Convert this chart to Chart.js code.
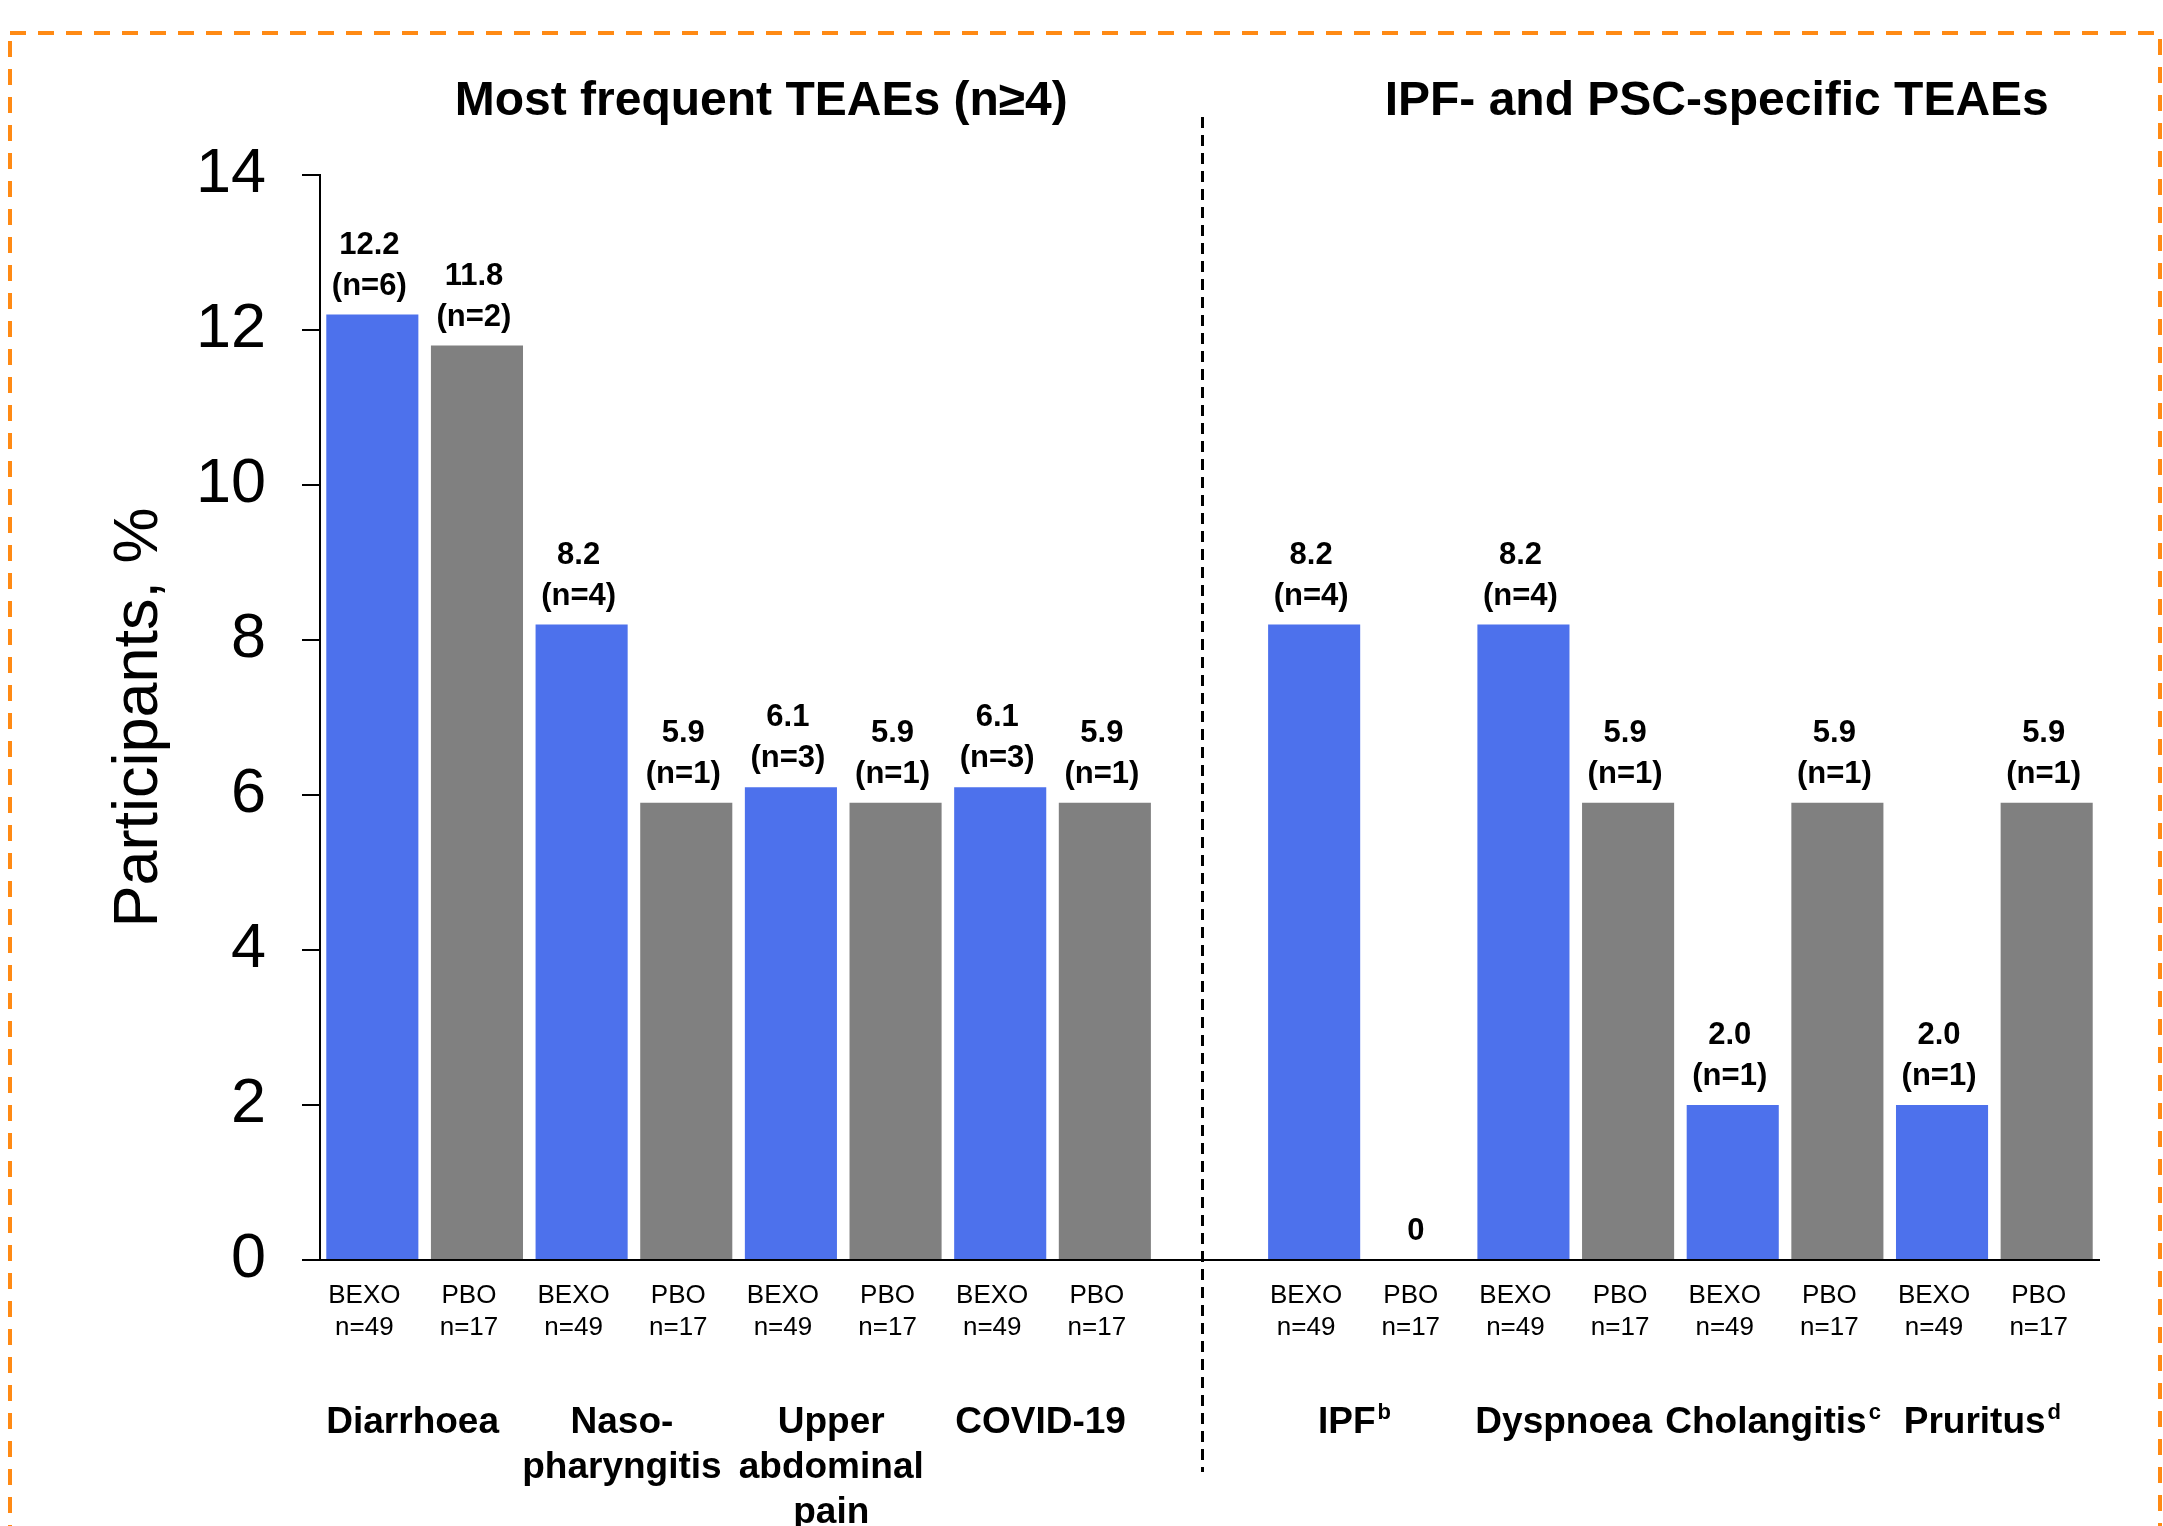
<!DOCTYPE html>
<html>
<head>
<meta charset="utf-8">
<script src="https://cdn.jsdelivr.net/npm/chart.js@4.4.1/dist/chart.umd.min.js"></script>
<style>
  body { margin: 0; background: #fff; }
  #chart { display: block; }
</style>
</head>
<body>
<canvas id="chart" width="2163" height="1526"></canvas>
<script>
const FONT = "'Liberation Sans', Arial, sans-serif";

// TEAEs in display order: first four = most frequent, last four = IPF/PSC specific
const eventNames = [["Diarrhoea"], ["Naso-", "pharyngitis"], ["Upper", "abdominal", "pain"], ["COVID-19"],
                    ["IPF"], ["Dyspnoea"], ["Cholangitis"], ["Pruritus"]];
const eventFootnotes = ["", "", "", "", "b", "", "c", "d"];
const panelTitles = ["Most frequent TEAEs (n\u22654)", "IPF- and PSC-specific TEAEs"];

const arms = ["BEXO", "PBO"];
const armTotals = [49, 17];

const bexoPct = [12.2, 8.2, 6.1, 6.1, 8.2, 8.2, 2.0, 2.0];
const bexoN = [6, 4, 3, 3, 4, 4, 1, 1];
const pboPct = [11.8, 5.9, 5.9, 5.9, 0, 5.9, 5.9, 5.9];
const pboN = [2, 1, 1, 1, 0, 1, 1, 1];

const yMin = 0, yMax = 14, yStep = 2;

// one slot per bar, with an empty slot between the two panels
const slotLabels = [], bexoData = [], pboData = [], slotCounts = [], firstSlot = [];
eventNames.forEach((_, i) => {
  if (i === 4) { slotLabels.push(""); bexoData.push(null); pboData.push(null); slotCounts.push(null); }
  firstSlot.push(slotLabels.length);
  slotLabels.push([arms[0], "n=" + armTotals[0]]); bexoData.push(bexoPct[i]); pboData.push(null); slotCounts.push(bexoN[i]);
  slotLabels.push([arms[1], "n=" + armTotals[1]]); bexoData.push(null); pboData.push(pboPct[i]); slotCounts.push(pboN[i]);
});
const gapSlot = 8;

const annotations = {
  id: "annotations",
  afterDatasetsDraw(chart) {
    const ctx = chart.ctx;
    ctx.save();
    ctx.fillStyle = "#000";
    ctx.textAlign = "center";
    ctx.textBaseline = "alphabetic";
    ctx.font = "bold 31px " + FONT;
    chart.data.datasets.forEach((ds, d) => {
      const meta = chart.getDatasetMeta(d);
      ds.data.forEach((v, s) => {
        if (v === null) return;
        const el = meta.data[s];
        const lines = v === 0 ? ["0"] : [v.toFixed(1), "(n=" + slotCounts[s] + ")"];
        lines.reverse().forEach((t, k) => ctx.fillText(t, el.x - 3, el.y - 20 - k * 41));
      });
    });
    ctx.restore();
  },
  afterDraw(chart) {
    const {ctx, chartArea, scales: {x}} = chart;
    ctx.save();

    // orange dashed frame
    ctx.strokeStyle = "#FF8A14";
    ctx.lineWidth = 4;
    ctx.setLineDash([16, 12]);
    ctx.strokeRect(10, 33, 2150, 1600);

    // panel divider
    const divX = x.getPixelForValue(gapSlot) - 7;
    ctx.strokeStyle = "#000";
    ctx.lineWidth = 3;
    ctx.setLineDash([11, 7]);
    ctx.beginPath();
    ctx.moveTo(divX, 117);
    ctx.lineTo(divX, 1472);
    ctx.stroke();
    ctx.setLineDash([]);

    // panel titles
    ctx.fillStyle = "#000";
    ctx.textAlign = "center";
    ctx.textBaseline = "alphabetic";
    ctx.font = "bold 48px " + FONT;
    ctx.fillText(panelTitles[0], (chartArea.left + divX) / 2, 115);
    ctx.fillText(panelTitles[1], x.getPixelForValue(13) - 16, 115);

    // event names under each pair of bars
    eventNames.forEach((lines, i) => {
      const cx = (x.getPixelForValue(firstSlot[i]) + x.getPixelForValue(firstSlot[i] + 1)) / 2 - 12;
      lines.forEach((t, k) => {
        const y = 1433 + k * 45;
        const last = k === lines.length - 1;
        const sup = last ? eventFootnotes[i] : "";
        ctx.font = "bold 37px " + FONT;
        const w = ctx.measureText(t).width;
        ctx.font = "bold 22px " + FONT;
        const ws = sup ? ctx.measureText(sup).width + 2 : 0;
        const left = cx - (w + ws) / 2;
        ctx.textAlign = "left";
        ctx.font = "bold 37px " + FONT;
        ctx.fillText(t, left, y);
        if (sup) {
          ctx.font = "bold 22px " + FONT;
          ctx.fillText(sup, left + w + 2, y - 14);
        }
      });
    });
    ctx.restore();
  }
};

new Chart(document.getElementById("chart"), {
  type: "bar",
  data: {
    labels: slotLabels,
    datasets: [
      { label: arms[0], data: bexoData, backgroundColor: "#4D71EC" },
      { label: arms[1], data: pboData, backgroundColor: "#808080" }
    ]
  },
  options: {
    responsive: false,
    animation: false,
    grouped: false,
    barPercentage: 0.88,
    categoryPercentage: 1.0,
    layout: { padding: { top: 175, right: 64, bottom: 0, left: 0 } },
    plugins: { legend: { display: false }, tooltip: { enabled: false } },
    scales: {
      x: {
        grid: { display: false, drawTicks: false },
        border: { display: true, color: "#000", width: 2 },
        ticks: {
          color: "#000",
          font: { family: FONT, size: 26, lineHeight: 1.23 },
          padding: 20,
          labelOffset: -8,
          autoSkip: false,
          maxRotation: 0
        },
        afterFit: (s) => { s.height = 266; }
      },
      y: {
        min: yMin,
        max: yMax,
        ticks: { stepSize: yStep, color: "#000", font: { family: FONT, size: 63 }, padding: 36 },
        grid: { drawOnChartArea: false, drawTicks: true, tickLength: 18, color: "#000", lineWidth: 2 },
        border: { display: true, color: "#000", width: 2 },
        title: {
          display: true,
          text: "Participants, %",
          color: "#000",
          font: { family: FONT, size: 63 },
          padding: { top: 102, bottom: 0 }
        },
        afterFit: (s) => { s.width = 320; }
      }
    }
  },
  plugins: [annotations]
});
</script>
</body>
</html>
